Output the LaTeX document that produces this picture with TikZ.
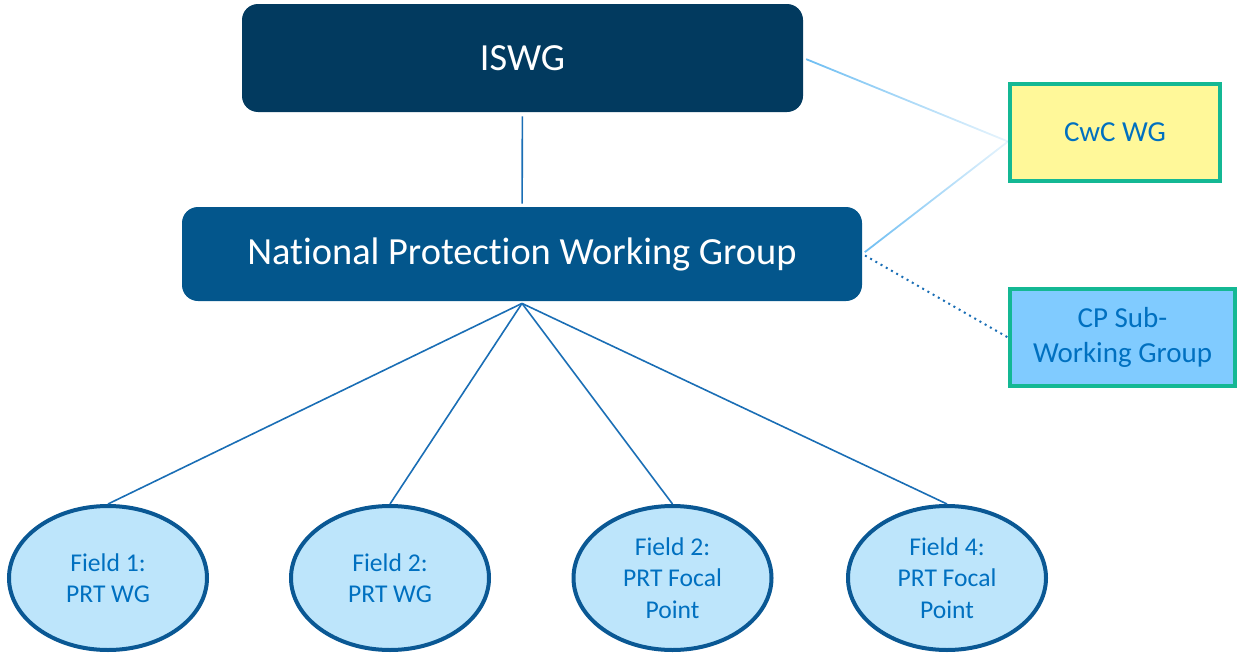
\documentclass[tikz,border=0pt]{standalone}
\usepackage{fontspec}
\setmainfont{Carlito}[Ligatures=NoCommon]
\usepackage{tikz}
\usetikzlibrary{shapes.geometric, positioning, fadings}

\definecolor{iswgnavy}{HTML}{023A5F}
\definecolor{npwgblue}{HTML}{03568C}
\definecolor{linkblue}{HTML}{1A6EB5}
\definecolor{linklight}{HTML}{6CBDF2}
\definecolor{txtblue}{HTML}{0070C0}
\definecolor{sideteal}{HTML}{14B894}
\definecolor{cwcyellow}{HTML}{FFF899}
\definecolor{cpblue}{HTML}{80CBFF}
\definecolor{fieldfill}{HTML}{BDE5FB}
\definecolor{fieldedge}{HTML}{0A5894}

\tikzfading[name=fadelink, left color=transparent!0, right color=transparent!85]

\begin{document}
\begin{tikzpicture}[x=0.5pt, y=-0.5pt,
    topbox/.style={rounded corners=8pt, text=white, inner sep=0pt,
        font=\fontsize{19.2}{23}\selectfont},
    sidebox/.style={draw=sideteal, line width=2pt, text=txtblue, align=center,
        inner sep=0pt, minimum height=48.5pt, font=\fontsize{14.5}{17.5}\selectfont},
    field/.style={ellipse, draw=fieldedge, line width=2pt, fill=fieldfill,
        text=txtblue, align=center, inner sep=0pt, minimum width=99pt,
        minimum height=72pt, font=\fontsize{12.8}{15.7}\selectfont},
    link/.style={linkblue, line width=0.8pt},
    fadedlink/.style={linklight, line width=0.9pt, path fading=fadelink}]

    \useasboundingbox (0,0) rectangle (1237,653);

    \node[topbox, fill=iswgnavy, minimum width=280.5pt, minimum height=54pt] (iswg) at (522.5,58) {ISWG};
    \node[topbox, fill=npwgblue, minimum width=340pt, minimum height=47pt] (npwg) at (522,254) {National Protection Working Group};
    \node[sidebox, fill=cwcyellow, minimum width=105pt] (cwc) at (1115,132.5) {CwC WG};
    \node[sidebox, fill=cpblue, minimum width=112.5pt] (cp) at (1122.5,337.5) {CP Sub-\\Working Group};

    \foreach \name/\x/\txt in {fa/108/{Field 1:\\PRT WG}, fb/390/{Field 2:\\PRT WG},
        fc/672.5/{Field 2:\\PRT Focal\\Point}, fd/947/{Field 4:\\PRT Focal\\Point}}
        \node[field] (\name) at (\x,578) {\txt};

    \coordinate (hub) at ([yshift=-1pt]npwg.south);
    \coordinate (cwcin) at ([yshift=-4.5pt]cwc.west);

    \draw[link, shorten <=2pt, shorten >=1.5pt] (iswg) -- (npwg);
    \foreach \f in {fa,fb,fc,fd}
        \draw[link] (hub) -- (\f.north);

    \draw[fadedlink, shorten <=1.5pt] (iswg.east) -- (cwcin);
    \draw[fadedlink, shorten <=1.5pt] (npwg.east) -- (cwcin);
    \draw[linkblue, line width=1pt, dotted, shorten <=1.5pt] (npwg.east) -- (cp.west);
\end{tikzpicture}
\end{document}
